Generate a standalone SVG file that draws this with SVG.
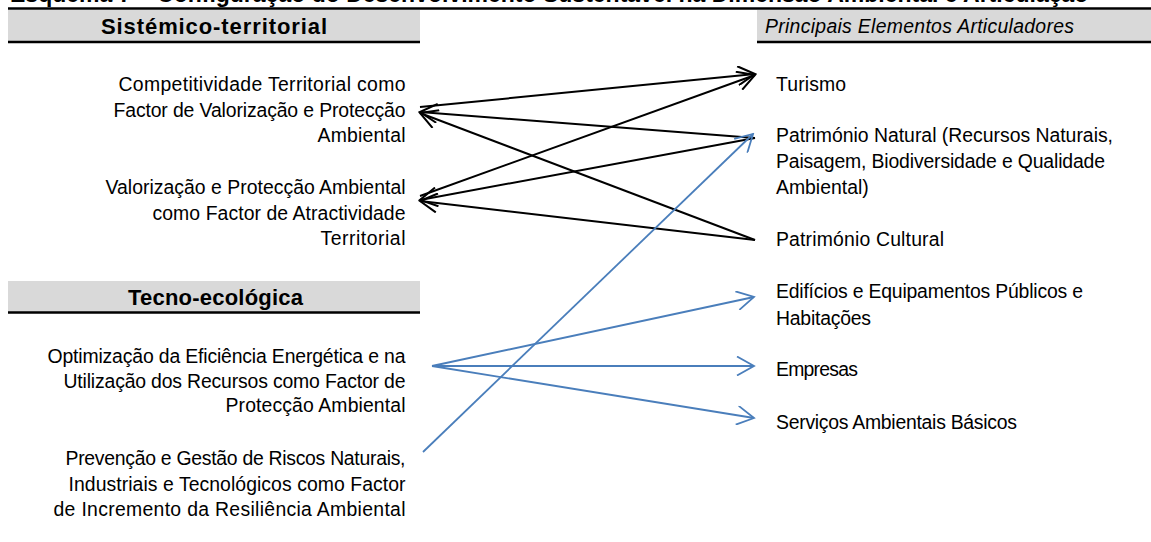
<svg xmlns="http://www.w3.org/2000/svg" width="1151" height="542" viewBox="0 0 1151 542">
<style>
.t{font-family:"Liberation Sans",Arial,sans-serif;font-size:19.4px;fill:#000}
.l{text-anchor:end}
.hb{font-family:"Liberation Sans",Arial,sans-serif;font-size:22px;font-weight:bold;text-anchor:middle;fill:#000}
.hi{font-family:"Liberation Sans",Arial,sans-serif;font-size:19.4px;font-style:italic;fill:#000}
.box{fill:#d9d9d9}
.rule{stroke:#000;stroke-width:2.5}
.k{stroke:#000;stroke-width:2;fill:none}
.b{stroke:#4a7ebb;stroke-width:1.8;fill:none}
</style>
<defs>
<marker id="ak" viewBox="0 0 20 20" markerWidth="20" markerHeight="20" refX="18" refY="10" orient="auto" markerUnits="userSpaceOnUse">
<path d="M1,0.5 L18,10 L1,19.5" fill="none" stroke="#000" stroke-width="2"/>
</marker>
<marker id="ab" viewBox="0 0 20 20" markerWidth="20" markerHeight="20" refX="18" refY="10" orient="auto" markerUnits="userSpaceOnUse">
<path d="M1,0.5 L18,10 L1,19.5" fill="none" stroke="#4a7ebb" stroke-width="1.8"/>
</marker>
</defs>
<rect width="1151" height="542" fill="#fff"/>
<g id="title">
<text x="10" y="1.5" style="font-family:'Liberation Sans',Arial,sans-serif;font-size:23px;font-weight:bold">Esquema 7 – Configuração do Desenvolvimento Sustentável na Dimensão Ambiental e Articulação</text>
<line class="rule" x1="8" y1="8.5" x2="1151" y2="8.5"/>
</g>
<g id="header-sistemico">
<rect class="box" x="8" y="10" width="412" height="32"/>
<line class="rule" x1="8" y1="42" x2="420" y2="42"/>
<text class="hb" x="214" y="34" textLength="226">Sistémico-territorial</text>
</g>
<g id="header-principais">
<rect class="box" x="757" y="10" width="394" height="32"/>
<line class="rule" x1="757" y1="42" x2="1151" y2="42"/>
<text class="hi" x="765" y="33" textLength="309">Principais Elementos Articuladores</text>
</g>
<g id="header-tecno">
<rect class="box" x="8" y="281" width="412" height="31"/>
<line class="rule" x1="8" y1="312.5" x2="420" y2="312.5"/>
<text class="hb" x="215.5" y="305" textLength="175">Tecno-ecológica</text>
</g>
<g id="node-competitividade">
<text class="t l" x="405.5" y="91" textLength="287">Competitividade Territorial como</text>
<text class="t l" x="405.5" y="117" textLength="292">Factor de Valorização e Protecção</text>
<text class="t l" x="405.5" y="142" textLength="88">Ambiental</text>
</g>
<g id="node-valorizacao">
<text class="t l" x="405.5" y="194" textLength="300">Valorização e Protecção Ambiental</text>
<text class="t l" x="405.5" y="220" textLength="253">como Factor de Atractividade</text>
<text class="t l" x="405.5" y="245" textLength="85">Territorial</text>
</g>
<g id="node-optimizacao">
<text class="t l" x="405.5" y="363" textLength="358">Optimização da Eficiência Energética e na</text>
<text class="t l" x="405.5" y="388" textLength="342">Utilização dos Recursos como Factor de</text>
<text class="t l" x="405.5" y="412" textLength="180">Protecção Ambiental</text>
</g>
<g id="node-prevencao">
<text class="t l" x="405.5" y="465" textLength="340">Prevenção e Gestão de Riscos Naturais,</text>
<text class="t l" x="405.5" y="491" textLength="337">Industriais e Tecnológicos como Factor</text>
<text class="t l" x="405.5" y="516" textLength="352">de Incremento da Resiliência Ambiental</text>
</g>
<g id="node-turismo">
<text class="t" x="776" y="91" textLength="70">Turismo</text>
</g>
<g id="node-patrimonio-natural">
<text class="t" x="776" y="142" textLength="337">Património Natural (Recursos Naturais,</text>
<text class="t" x="776" y="168" textLength="329">Paisagem, Biodiversidade e Qualidade</text>
<text class="t" x="776" y="194">Ambiental)</text>
</g>
<g id="node-patrimonio-cultural">
<text class="t" x="776" y="246" textLength="168">Património Cultural</text>
</g>
<g id="node-edificios">
<text class="t" x="776" y="298" textLength="307">Edifícios e Equipamentos Públicos e</text>
<text class="t" x="776" y="325" textLength="95">Habitações</text>
</g>
<g id="node-empresas">
<text class="t" x="776" y="376" textLength="82">Empresas</text>
</g>
<g id="node-servicos">
<text class="t" x="776" y="429" textLength="241">Serviços Ambientais Básicos</text>
</g>
<g id="connectors">
<path class="k" d="M420,107 L755,74" marker-end="url(#ak)"/>
<path class="k" d="M755,138 L420,112" marker-end="url(#ak)"/>
<path class="k" d="M755,240 L420,113" marker-end="url(#ak)"/>
<path class="k" d="M420,196 L755,75" marker-end="url(#ak)"/>
<path class="k" d="M755,138 L420,200" marker-end="url(#ak)"/>
<path class="k" d="M755,240 L420,201" marker-end="url(#ak)"/>
<path class="b" d="M432,366 L754,297" marker-end="url(#ab)"/>
<path class="b" d="M432,366 L754,366" marker-end="url(#ab)"/>
<path class="b" d="M432,366 L754,418" marker-end="url(#ab)"/>
<path class="b" d="M423,452 L753,134" marker-end="url(#ab)"/>
</g>
</svg>
